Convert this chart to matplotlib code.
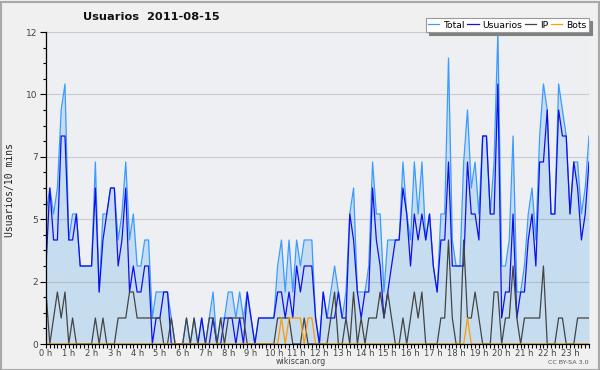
import numpy as np
import matplotlib
matplotlib.use("Agg")
import matplotlib.pyplot as plt
from matplotlib.patches import Rectangle

# ---- data (10-minute buckets, 2011-08-15) ----
usuarios = [3, 6, 4, 4, 8, 8, 4, 4, 5, 3, 3, 3, 3, 6, 2, 4, 5, 6, 6, 3,
            4, 6, 2, 3, 2, 2, 3, 3, 0, 1, 1, 2, 2, 0, 0, 0, 0, 0, 0, 0,
            0, 1, 0, 0, 1, 0, 0, 1, 1, 1, 0, 1, 0, 2, 1, 0, 1, 1, 1, 1,
            1, 2, 2, 1, 2, 1, 3, 2, 3, 3, 3, 1, 0, 2, 1, 1, 1, 2, 1, 1,
            5, 4, 2, 1, 2, 2, 6, 4, 3, 1, 2, 3, 4, 4, 6, 5, 3, 5, 4, 5,
            4, 5, 3, 2, 4, 4, 7, 3, 3, 3, 3, 7, 5, 5, 4, 8, 8, 5, 5, 10,
            1, 2, 2, 5, 1, 2, 2, 4, 5, 3, 7, 7, 9, 5, 5, 9, 8, 8, 5, 7,
            6, 4, 5, 7]
ip = [2, 0, 1, 2, 1, 2, 0, 1, 0, 0, 0, 0, 0, 1, 0, 1, 0, 0, 0, 1,
      1, 1, 2, 2, 1, 1, 1, 1, 1, 1, 1, 0, 0, 1, 0, 0, 0, 1, 0, 1,
      0, 0, 0, 1, 1, 0, 1, 0, 1, 1, 1, 1, 1, 0, 0, 0, 0, 0, 0, 0,
      0, 1, 1, 1, 1, 0, 0, 0, 1, 0, 0, 0, 0, 0, 0, 1, 2, 0, 0, 1,
      0, 2, 0, 1, 0, 1, 1, 1, 2, 1, 2, 1, 0, 0, 1, 0, 1, 2, 1, 2,
      0, 0, 0, 0, 1, 1, 4, 1, 0, 0, 4, 1, 1, 2, 1, 0, 0, 0, 2, 2,
      0, 1, 1, 3, 1, 0, 1, 1, 1, 1, 1, 3, 0, 0, 0, 1, 1, 0, 0, 0,
      1, 1, 1, 1]
bots = [0] * 62 + [1, 0, 1, 1, 1, 1, 0, 1, 1] + [0] * 40 + [1] + [0] * 32
total = [5, 6, 5, 6, 9, 10, 4, 5, 5, 3, 3, 3, 3, 7, 2, 5, 5, 6, 6, 4,
         5, 7, 4, 5, 3, 3, 4, 4, 1, 2, 2, 2, 2, 1, 0, 0, 0, 1, 0, 1,
         0, 1, 0, 1, 2, 0, 1, 1, 2, 2, 1, 2, 1, 2, 1, 0, 1, 1, 1, 1,
         1, 3, 4, 2, 4, 2, 4, 3, 4, 4, 4, 1, 0, 2, 1, 2, 3, 2, 1, 2,
         5, 6, 2, 2, 2, 3, 7, 5, 5, 2, 4, 4, 4, 4, 7, 5, 4, 7, 5, 7,
         4, 5, 3, 2, 5, 5, 11, 4, 3, 3, 7, 9, 6, 7, 5, 8, 8, 5, 7, 12,
         3, 3, 4, 8, 2, 2, 3, 5, 6, 4, 8, 10, 9, 5, 5, 10, 9, 8, 5, 7,
         7, 5, 6, 8]
hour_labels = [f"{h} h" for h in range(24)]
ytick_values = [0, 2.4, 4.8, 7.2, 9.6, 12]
ytick_labels = ["0", "2", "5", "7", "10", "12"]
series_names = ["Total", "Usuarios", "IP", "Bots"]

# ---- figure ----
W, H = 600, 370
fig = plt.figure(figsize=(W / 100, H / 100), dpi=100, facecolor="#f0f0f0")
ax = fig.add_axes([46 / W, (H - 344) / H, 543 / W, 312 / H])
ax.set_facecolor("#eeeff2")

x = np.arange(len(total))
c_total, c_fill, c_user, c_ip, c_bot = "#3b9bff", "#c6ddf0", "#1010ee", "#444444", "#ff9a00"

ax.fill_between(x, 0, total, color=c_fill, lw=0, zorder=1)
l1, = ax.plot(x, total, color=c_total, lw=0.9, zorder=3)
l2, = ax.plot(x, usuarios, color=c_user, lw=0.9, zorder=4)
l3, = ax.plot(x, ip, color=c_ip, lw=0.9, zorder=5)
l4, = ax.plot(x, bots, color=c_bot, lw=0.9, zorder=6)

ax.set_xlim(0, len(total) - 1)
ax.set_ylim(0, 12)

ax.set_yticks(ytick_values)
ax.set_yticklabels(ytick_labels)
ax.set_yticks(np.arange(0, 12.01, 0.6), minor=True)
ax.set_xticks(np.arange(0, 144, 6))
ax.set_xticklabels(hour_labels)
ax.set_xticks(np.arange(0, 144, 1), minor=True)

ax.tick_params(axis="y", which="major", length=4, width=0.8, labelsize=6.5,
               labelcolor="#444444", pad=2)
ax.tick_params(axis="y", which="minor", length=2.5, width=0.8)
ax.tick_params(axis="x", which="both", length=3, width=0.8, labelsize=6,
               labelcolor="#444444", pad=0.5)

for s in ["top", "right"]:
    ax.spines[s].set_visible(False)
for s in ["left", "bottom"]:
    ax.spines[s].set_color("black")
    ax.spines[s].set_linewidth(0.9)
    ax.spines[s].set_zorder(7)

ax.set_axisbelow(False)
ax.grid(axis="y", which="major", color="#6e6e78", alpha=0.28, lw=0.8)
for gl in ax.get_ygridlines():
    gl.set_zorder(2)

leg = ax.legend([l1, l2, l3, l4], series_names, loc="lower right",
                bbox_to_anchor=(1.0, 1.0), ncol=4, fontsize=6.7,
                frameon=True, fancybox=False, framealpha=1,
                edgecolor="#999999", facecolor="white",
                shadow={"color": "#808080", "alpha": 1.0},
                handlelength=1.2, handletextpad=0.45, columnspacing=0.25,
                borderpad=0.25, borderaxespad=0.0)
leg.get_frame().set_linewidth(0.8)
leg.set_zorder(10)

fig.text(151 / W, 1 - 17 / H, "Usuarios  2011-08-15", ha="center", va="center",
         fontsize=8.2, fontweight="bold", color="#111111")
fig.text(10 / W, 1 - 190 / H, "Usuarios/10 mins", rotation=90, ha="center",
         va="center", fontsize=7, family="DejaVu Sans Mono", color="#222222")
fig.text(301 / W, 1 - 362 / H, "wikiscan.org", ha="center", va="center",
         fontsize=5.8, color="#444444")
fig.text(589 / W, 1 - 362 / H, "CC BY-SA 3.0", ha="right", va="center",
         fontsize=4.6, color="#555555")

fig.patches.append(Rectangle((0.5 / W, 0.5 / H), 1 - 2 / W, 1 - 2 / H,
                             transform=fig.transFigure, fill=False,
                             edgecolor="#a8a8a8", lw=1.5))

fig.savefig("out.png", dpi=100, facecolor=fig.get_facecolor())
